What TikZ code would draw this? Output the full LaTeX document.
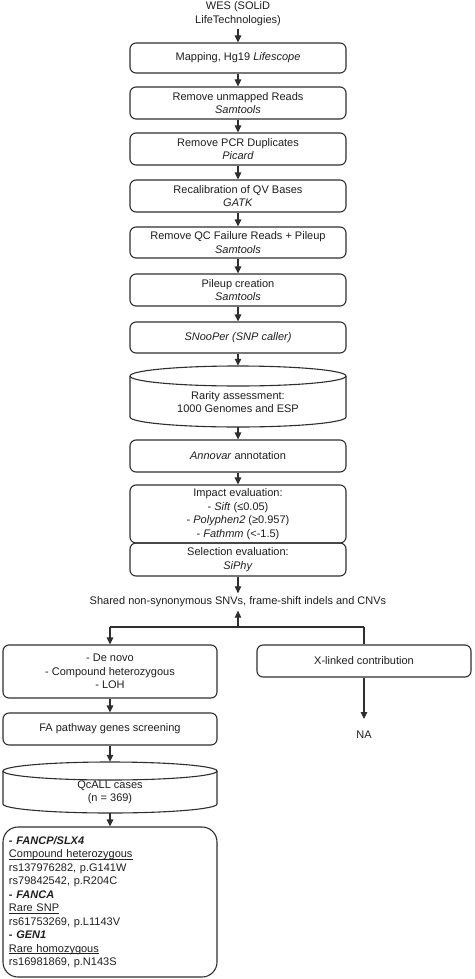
\documentclass[tikz,border=0pt]{standalone}
\usepackage{fontspec}
\setmainfont{Liberation Sans}
\usetikzlibrary{arrows.meta,calc}
\definecolor{lncol}{HTML}{2E2E2E}
\definecolor{txtcol}{HTML}{1E1E1E}
\newcommand\myul[1]{\leavevmode\setbox0\hbox{#1}\rlap{\color{txtcol}\rule[-1.6pt]{\wd0}{0.6pt}}\box0}
\begin{document}
\begin{tikzpicture}[x=1pt,y=-1pt,
  every node/.style={font=\fontsize{11}{13.5}\selectfont, text=txtcol},
  box/.style={draw=lncol, line width=1.1pt, rounded corners=6pt, align=center,
              minimum width=216pt, inner sep=0pt},
  lbox/.style={box, minimum width=214pt},
  arr/.style={draw=lncol, line width=1.1pt, -{Triangle[length=7pt,width=6.5pt]}},
  conn/.style={draw=lncol, line width=1.1pt}]
\useasboundingbox (0,0) rectangle (474,979);

% main column
\node[align=center] (wes) at (238,13.5) {WES (SOLiD\\LifeTechnologies)};
\node[box, minimum height=30pt] (b1) at (238,58) {Mapping, Hg19 \textit{Lifescope}};
\node[box, minimum height=32pt] (b2) at (238,103) {Remove unmapped Reads\\\textit{Samtools}};
\node[box, minimum height=32pt] (b3) at (238,149) {Remove PCR Duplicates\\\textit{Picard}};
\node[box, minimum height=32pt] (b4) at (238,196) {Recalibration of QV Bases\\\textit{GATK}};
\node[box, minimum height=31pt] (b5) at (238,242.5) {Remove QC Failure Reads + Pileup\\\textit{Samtools}};
\node[box, minimum height=32pt] (b6) at (238,290) {Pileup creation\\\textit{Samtools}};
\node[box, minimum height=31pt] (b7) at (238,337.5) {\textit{SNooPer (SNP caller)}};

% rarity cylinder
\node[minimum width=216pt, minimum height=61pt, inner sep=0pt] (cyl) at (238,396.5) {};
\draw[conn] (238,376) ellipse [x radius=108, y radius=10];
\draw[conn] (130,376) -- (130,417) arc[start angle=180, end angle=0, x radius=108, y radius=10] -- (346,376);
\node[align=center] (cylt) at (238,402) {Rarity assessment:\\1000 Genomes and ESP};

\node[box, minimum height=32pt] (b8) at (238,456) {\textit{Annovar} annotation};
\node[box, minimum height=58pt] (b9) at (238,514) {Impact evaluation:\\- \textit{Sift} (≤0.05)\\- \textit{Polyphen2} (≥0.957)\\- \textit{Fathmm} (<-1.5)};
\node[box, minimum height=33pt] (b10) at (238,559.5) {Selection evaluation:\\\textit{SiPhy}};

\node (sh) at (238,602) {Shared non-synonymous SNVs, frame-shift indels and CNVs};

\coordinate (j) at (238,627);
\coordinate (jl) at (110,627);
\coordinate (jr) at (364,627);

% left branch
\node[lbox, minimum height=53pt] (l1) at (110,671.5) {- De novo\\- Compound heterozygous\\- LOH};
\node[lbox, minimum height=32pt] (l2) at (110,729) {FA pathway genes screening};

\node[minimum width=214pt, minimum height=51pt, inner sep=0pt] (qc) at (110,787.5) {};
\draw[conn] (110,771) ellipse [x radius=107, y radius=9];
\draw[conn] (3,771) -- (3,804) arc[start angle=180, end angle=0, x radius=107, y radius=9] -- (217,771);
\node[align=center] (qct) at (110,792.5) {QcALL cases\\(n = 369)};

\node[draw=lncol, line width=1.1pt, rounded corners=15pt, minimum width=214pt,
      minimum height=150pt, text width=202pt, inner sep=6pt, align=left] (fin) at (110,902)
  {\textbf{\textit{- FANCP/SLX4}}\\
   \myul{Compound heterozygous}\\
   rs137976282, p.G141W\\
   rs79842542, p.R204C\\
   \textbf{\textit{- FANCA}}\\
   \myul{Rare SNP}\\
   rs61753269, p.L1143V\\
   \textbf{\textit{- GEN1}}\\
   \myul{Rare homozygous}\\
   rs16981869, p.N143S};

% right branch
\node[lbox, minimum height=32pt] (r1) at (364,661) {X-linked contribution};
\node[inner xsep=2pt, inner ysep=12pt] (na) at (364,735) {NA};

% connectors
\draw[arr] (wes) -- (b1);
\draw[arr] (b1) -- (b2);
\draw[arr] (b2) -- (b3);
\draw[arr] (b3) -- (b4);
\draw[arr] (b4) -- (b5);
\draw[arr] (b5) -- (b6);
\draw[arr] (b6) -- (b7);
\draw[arr] (b7) -- (cyl);
\draw[arr] (cyl) -- (b8);
\draw[arr] (b8) -- (b9);
\draw[arr] (b10) -- (sh);
\draw[arr] (j) -- (sh);
\draw[conn] (jl) -- (jr);
\draw[arr] (jl) -- (l1);
\draw[conn] (jr) -- (r1);
\draw[arr] (l1) -- (l2);
\draw[arr] (l2) -- (qc);
\draw[arr] (qc) -- (fin);
\draw[arr] (r1) -- (na);
\end{tikzpicture}
\end{document}
